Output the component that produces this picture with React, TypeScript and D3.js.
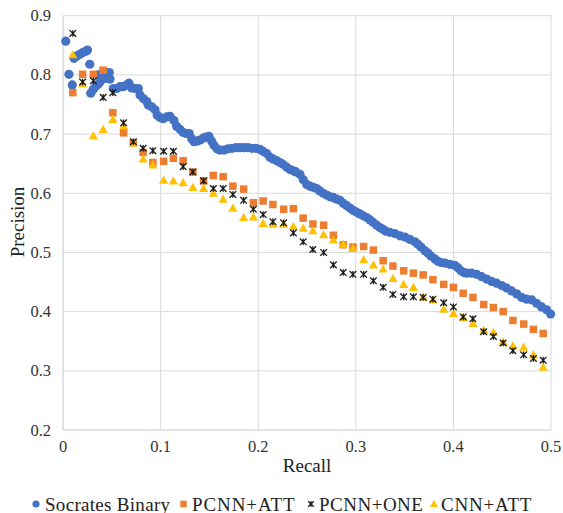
import React from "react";
import * as d3 from "d3";

const W = 563;
const H = 513;

const xTicks = [0, 0.1, 0.2, 0.3, 0.4, 0.5];
const yTicks = [0.2, 0.3, 0.4, 0.5, 0.6, 0.7, 0.8, 0.9];
const seriesNames = ["Socrates Binary", "PCNN+ATT", "PCNN+ONE", "CNN+ATT"];

const baselineRecall = [
  0.010, 0.020, 0.031, 0.041, 0.051, 0.062, 0.072, 0.082, 0.092, 0.103,
  0.113, 0.123, 0.133, 0.144, 0.154, 0.164, 0.174, 0.185, 0.195, 0.205,
  0.215, 0.226, 0.236, 0.246, 0.256, 0.267, 0.277, 0.287, 0.297, 0.308,
  0.318, 0.328, 0.338, 0.349, 0.359, 0.369, 0.379, 0.390, 0.400, 0.410,
  0.420, 0.431, 0.441, 0.451, 0.461, 0.472, 0.482, 0.492,
];

const pcnnAtt = [
  0.770, 0.801, 0.801, 0.808, 0.736, 0.702, 0.685, 0.669, 0.652, 0.654,
  0.659, 0.655, 0.636, 0.621, 0.630, 0.628, 0.612, 0.607, 0.584, 0.587,
  0.581, 0.573, 0.574, 0.558, 0.548, 0.546, 0.529, 0.513, 0.509, 0.510,
  0.504, 0.486, 0.477, 0.469, 0.465, 0.462, 0.454, 0.446, 0.441, 0.431,
  0.424, 0.412, 0.407, 0.400, 0.385, 0.379, 0.370, 0.363,
];

const pcnnOne = [
  0.870, 0.788, 0.790, 0.762, 0.770, 0.719, 0.687, 0.676, 0.672, 0.671,
  0.671, 0.645, 0.636, 0.621, 0.608, 0.608, 0.598, 0.588, 0.573, 0.564,
  0.552, 0.550, 0.533, 0.518, 0.505, 0.500, 0.479, 0.466, 0.463, 0.463,
  0.452, 0.441, 0.429, 0.425, 0.425, 0.424, 0.421, 0.415, 0.408, 0.391,
  0.388, 0.366, 0.358, 0.347, 0.334, 0.327, 0.321, 0.318,
];

const cnnAtt = [
  0.834, 0.785, 0.697, 0.708, 0.725, 0.714, 0.685, 0.658, 0.648, 0.622,
  0.621, 0.618, 0.610, 0.608, 0.600, 0.590, 0.575, 0.559, 0.560, 0.549,
  0.548, 0.548, 0.544, 0.541, 0.537, 0.530, 0.521, 0.514, 0.507, 0.488,
  0.479, 0.472, 0.456, 0.446, 0.441, 0.425, 0.420, 0.404, 0.397, 0.390,
  0.380, 0.369, 0.365, 0.349, 0.342, 0.340, 0.327, 0.306,
];

// [recall, precision]
const socrates: [number, number][] = [
  [0.0027, 0.857], [0.0060, 0.801], [0.0094, 0.783], [0.0112, 0.828], [0.0142, 0.832],
  [0.0173, 0.835], [0.0204, 0.838], [0.0235, 0.840], [0.0250, 0.842], [0.0273, 0.818],
  [0.0283, 0.769], [0.0306, 0.775], [0.0332, 0.780], [0.0358, 0.784], [0.0361, 0.800],
  [0.0378, 0.788], [0.0395, 0.796], [0.0406, 0.803], [0.0412, 0.794], [0.0440, 0.794],
  [0.0447, 0.804], [0.0473, 0.804], [0.0481, 0.793], [0.0514, 0.777], [0.0549, 0.777],
  [0.0583, 0.780], [0.0617, 0.780], [0.0652, 0.783], [0.0675, 0.786], [0.0703, 0.778],
  [0.0737, 0.777], [0.0770, 0.777], [0.0788, 0.766], [0.0822, 0.760], [0.0857, 0.755],
  [0.0873, 0.749], [0.0908, 0.746], [0.0942, 0.741], [0.0965, 0.732], [0.0993, 0.728],
  [0.1024, 0.726], [0.1061, 0.729], [0.1095, 0.730], [0.1136, 0.723], [0.1164, 0.713],
  [0.1198, 0.708], [0.1228, 0.703], [0.1259, 0.701], [0.1293, 0.701], [0.1318, 0.692],
  [0.1341, 0.687], [0.1372, 0.688], [0.1403, 0.690], [0.1436, 0.693], [0.1464, 0.695],
  [0.1495, 0.696], [0.1523, 0.688], [0.1546, 0.681], [0.1577, 0.675], [0.1608, 0.673],
  [0.1649, 0.673], [0.1690, 0.675], [0.1731, 0.676], [0.1772, 0.677], [0.1813, 0.677],
  [0.1853, 0.677], [0.1894, 0.677], [0.1935, 0.676], [0.1976, 0.676], [0.2017, 0.674],
  [0.2048, 0.671], [0.2086, 0.667], [0.2120, 0.661], [0.2151, 0.658], [0.2189, 0.655],
  [0.2223, 0.652], [0.2253, 0.649], [0.2291, 0.644], [0.2325, 0.640], [0.2359, 0.638],
  [0.2386, 0.636], [0.2427, 0.632], [0.2461, 0.623], [0.2496, 0.615], [0.2530, 0.612],
  [0.2564, 0.610], [0.2598, 0.608], [0.2632, 0.604], [0.2666, 0.600], [0.2701, 0.597],
  [0.2735, 0.594], [0.2768, 0.593], [0.2803, 0.590], [0.2837, 0.588], [0.2871, 0.583],
  [0.2906, 0.579], [0.2940, 0.575], [0.2973, 0.571], [0.3008, 0.568], [0.3042, 0.565],
  [0.3076, 0.562], [0.3111, 0.559], [0.3145, 0.555], [0.3175, 0.551], [0.3213, 0.546],
  [0.3247, 0.542], [0.3278, 0.539], [0.3308, 0.536], [0.3347, 0.534], [0.3399, 0.532],
  [0.3452, 0.528], [0.3503, 0.526], [0.3554, 0.522], [0.3605, 0.518], [0.3636, 0.514],
  [0.3667, 0.509], [0.3708, 0.503], [0.3739, 0.499], [0.3769, 0.494], [0.3810, 0.489],
  [0.3841, 0.485], [0.3872, 0.483], [0.3913, 0.482], [0.3964, 0.480], [0.4015, 0.478],
  [0.4046, 0.474], [0.4077, 0.469], [0.4108, 0.466], [0.4139, 0.465], [0.4186, 0.465],
  [0.4238, 0.463], [0.4289, 0.459], [0.4340, 0.455], [0.4391, 0.451], [0.4443, 0.448],
  [0.4494, 0.444], [0.4545, 0.440], [0.4596, 0.435], [0.4648, 0.430], [0.4699, 0.424],
  [0.4750, 0.421], [0.4801, 0.420], [0.4852, 0.414], [0.4904, 0.408], [0.4955, 0.403],
  [0.4996, 0.396],
];

const BLUE = "#4472C4";
const ORANGE = "#ED7D31";
const YELLOW = "#FFC000";
const BLACK = "#1a1a1a";
const GRID = "#d9d9d9";
const FONT = '"Liberation Serif"';

const PLOT = { left: 63.1, right: 551, top: 15.7, bottom: 430 };

function Square({ x, y, s = 7.5 }: { x: number; y: number; s?: number }) {
  return <rect x={x - s / 2} y={y - s / 2} width={s} height={s} fill={ORANGE} />;
}
function Tri({ x, y }: { x: number; y: number }) {
  return (
    <path
      d={`M${x},${y - 4.6} L${x + 4.6},${y + 3.6} L${x - 4.6},${y + 3.6} Z`}
      fill={YELLOW}
    />
  );
}
function Star({ x, y, s = 3.3 }: { x: number; y: number; s?: number }) {
  return (
    <path
      d={`M${x - s},${y - s} L${x + s},${y + s} M${x - s},${y + s} L${x + s},${y - s} M${x},${y - s} L${x},${y + s}`}
      stroke={BLACK}
      strokeWidth={1.3}
      fill="none"
    />
  );
}

const textStyle = { fontFamily: FONT };

export default function App() {
  const x = d3.scaleLinear().domain([0, 0.5]).range([PLOT.left, PLOT.right]);
  const y = d3.scaleLinear().domain([0.2, 0.9]).range([PLOT.bottom, PLOT.top]);

  const legendY = 504;

  return (
    <svg width={W} height={H} style={{ position: "absolute", left: 0, top: 0, background: "#fff" }}>
      <rect x={0} y={0} width={W} height={H} fill="#fff" />
      {yTicks.map((t) => (
        <line
          key={"gy" + t}
          x1={PLOT.left}
          x2={PLOT.right}
          y1={y(t)}
          y2={y(t)}
          stroke={t === 0.2 ? "#c8c8c8" : GRID}
          strokeWidth={1}
        />
      ))}
      {xTicks.map((t) => (
        <line
          key={"gx" + t}
          x1={x(t)}
          x2={x(t)}
          y1={PLOT.top}
          y2={PLOT.bottom}
          stroke={t === 0 ? "#c8c8c8" : GRID}
          strokeWidth={1}
        />
      ))}
      {yTicks.map((t) => (
        <text
          key={"ty" + t}
          x={51}
          y={y(t) + 5.5}
          textAnchor="end"
          fontSize={16.5}
          fill="#333"
          style={textStyle}
        >
          {d3.format(".1f")(t)}
        </text>
      ))}
      {xTicks.map((t) => (
        <text
          key={"tx" + t}
          x={x(t)}
          y={452}
          textAnchor="middle"
          fontSize={16.5}
          fill="#333"
          style={textStyle}
        >
          {t === 0 ? "0" : d3.format(".1f")(t)}
        </text>
      ))}
      <text
        x={(PLOT.left + PLOT.right) / 2}
        y={472}
        textAnchor="middle"
        fontSize={19}
        fill="#222"
        style={textStyle}
      >
        Recall
      </text>
      <text
        transform={`translate(24,222) rotate(-90)`}
        textAnchor="middle"
        fontSize={19}
        fill="#222"
        style={textStyle}
      >
        Precision
      </text>

      <g>
        {socrates.map(([r, p], i) => (
          <circle key={"s" + i} cx={x(r)} cy={y(p)} r={4.6} fill={BLUE} />
        ))}
      </g>
      <g>
        {pcnnAtt.map((p, i) => (
          <Square key={"a" + i} x={x(baselineRecall[i])} y={y(p)} />
        ))}
      </g>
      <g>
        {cnnAtt.map((p, i) => (
          <Tri key={"c" + i} x={x(baselineRecall[i])} y={y(p)} />
        ))}
      </g>
      <g>
        {pcnnOne.map((p, i) => (
          <Star key={"o" + i} x={x(baselineRecall[i])} y={y(p)} />
        ))}
      </g>

      <g fontSize={19} fill="#222">
        <circle cx={36} cy={legendY} r={3.6} fill={BLUE} />
        <text x={45} y={legendY + 6.5} style={{ ...textStyle, letterSpacing: "0.3px" }}>
          {seriesNames[0]}
        </text>
        <Square x={183.5} y={legendY} s={6.5} />
        <text x={192} y={legendY + 6.5} style={{ ...textStyle, letterSpacing: "0.9px" }}>
          {seriesNames[1]}
        </text>
        <Star x={311} y={legendY} s={2.8} />
        <text x={319} y={legendY + 6.5} style={{ ...textStyle, letterSpacing: "0.5px" }}>
          {seriesNames[2]}
        </text>
        <path
          d={`M434,${legendY - 4} L438,${legendY + 3} L430,${legendY + 3} Z`}
          fill={YELLOW}
        />
        <text x={441} y={legendY + 6.5} style={{ ...textStyle, letterSpacing: "0.8px" }}>
          {seriesNames[3]}
        </text>
      </g>
    </svg>
  );
}
